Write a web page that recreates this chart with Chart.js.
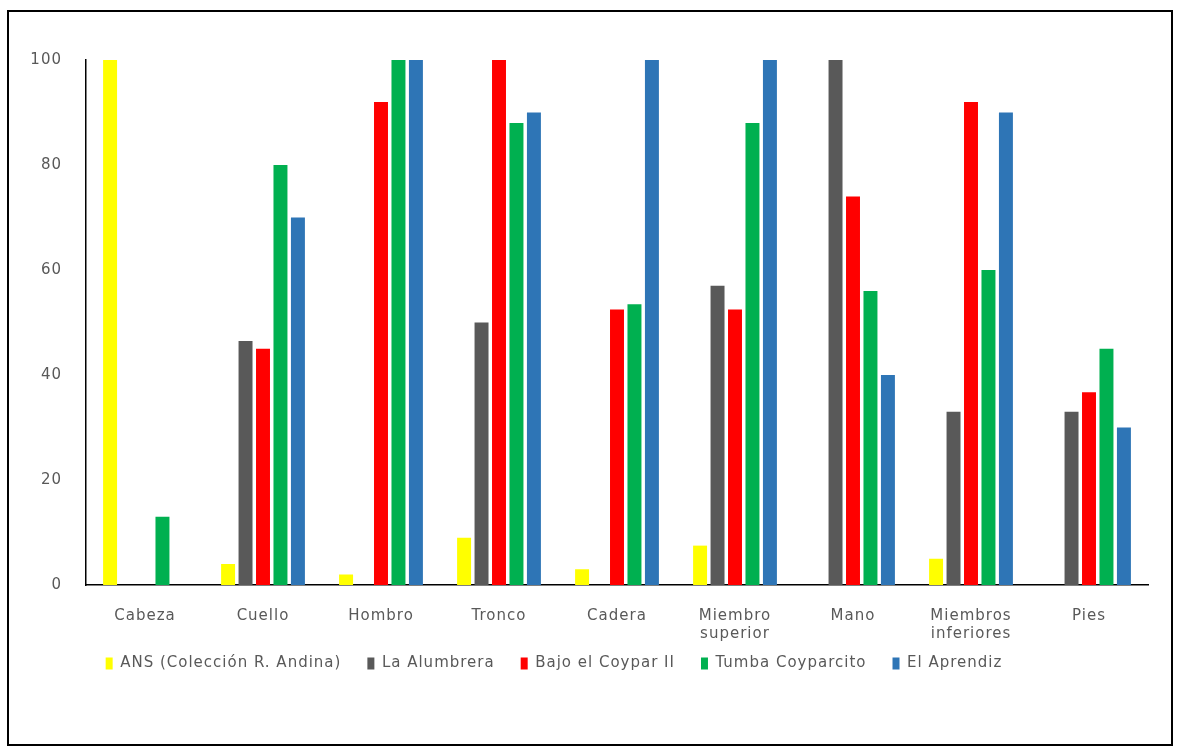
<!DOCTYPE html>
<html>
<head>
<meta charset="utf-8">
<script src="https://cdn.jsdelivr.net/npm/chart.js@4.4.1/dist/chart.umd.min.js"></script>
<style>
  html, body { margin: 0; padding: 0; background: #fff; }
  #wrap { position: relative; width: 1179px; height: 748px; }
  #frame { position: absolute; left: 7px; top: 10px; width: 1162px; height: 732px; border: 2px solid #000; pointer-events: none; }
  canvas { position: absolute; left: 0; top: 0; }
</style>
</head>
<body>
<div id="wrap">
  <canvas id="myChart" width="1179" height="748"></canvas>
  <div id="frame"></div>
</div>
<script>
const categories = ["Cabeza", "Cuello", "Hombro", "Tronco", "Cadera", ["Miembro", "superior"], "Mano", ["Miembros", "inferiores"], "Pies"];
const seriesNames = ["ANS (Colección R. Andina)", "La Alumbrera", "Bajo el Coypar II", "Tumba Coyparcito", "El Aprendiz"];
const ans = [100, 4, 2, 9, 3, 7.5, 0, 5, 0];
const alumbrera = [0, 46.5, 0, 50, 0, 57, 100, 33, 33];
const coypar = [0, 45, 92, 100, 52.5, 52.5, 74, 92, 36.7];
const coyparcito = [13, 80, 100, 88, 53.5, 88, 56, 60, 45];
const aprendiz = [0, 70, 100, 90, 100, 100, 40, 90, 30];
const yTicks = [0, 20, 40, 60, 80, 100];

const colors = ["#ffff00", "#595959", "#ff0000", "#00b050", "#2e75b6"];
const values = [ans, alumbrera, coypar, coyparcito, aprendiz];

const ctx = document.getElementById("myChart").getContext("2d");
const font = { family: "DejaVu Sans", size: 15 };

// wider letter spacing like the original, and pull the legend up under the labels
const tweak = {
  id: "tweak",
  beforeLayout(chart) {
    chart.ctx.letterSpacing = "1px";
  },
  afterLayout(chart) {
    const lg = chart.legend;
    lg.top -= 21;
    lg.bottom -= 21;
    lg.left -= 20;
    lg.right -= 20;
  },
};

new Chart(ctx, {
  type: "bar",
  data: {
    labels: categories,
    datasets: values.map((v, i) => ({
      label: seriesNames[i],
      data: v,
      backgroundColor: colors[i],
      categoryPercentage: 0.74,
      barPercentage: 0.8,
    })),
  },
  options: {
    responsive: false,
    animation: false,
    layout: { padding: { top: 60, left: 0, right: 31, bottom: 46 } },
    plugins: {
      legend: {
        position: "bottom",
        labels: {
          color: "#595959",
          font: font,
          boxWidth: 7,
          boxHeight: 12,
          padding: 26,
        },
      },
      tooltip: { enabled: false },
    },
    scales: {
      x: {
        grid: { display: false, drawTicks: false },
        border: { color: "#000", width: 1.5 },
        ticks: { color: "#595959", font: font, padding: 22, maxRotation: 0, autoSkip: false },
        afterFit: (s) => { s.height = 66; },
      },
      y: {
        min: 0,
        max: 100,
        afterBuildTicks: (s) => { s.ticks = yTicks.map((v) => ({ value: v })); },
        grid: { display: false, drawTicks: false },
        border: { color: "#000", width: 1.5 },
        ticks: { color: "#595959", font: font, padding: 24 },
        afterFit: (s) => { s.width = 86; },
      },
    },
  },
  plugins: [tweak],
});
</script>
</body>
</html>
